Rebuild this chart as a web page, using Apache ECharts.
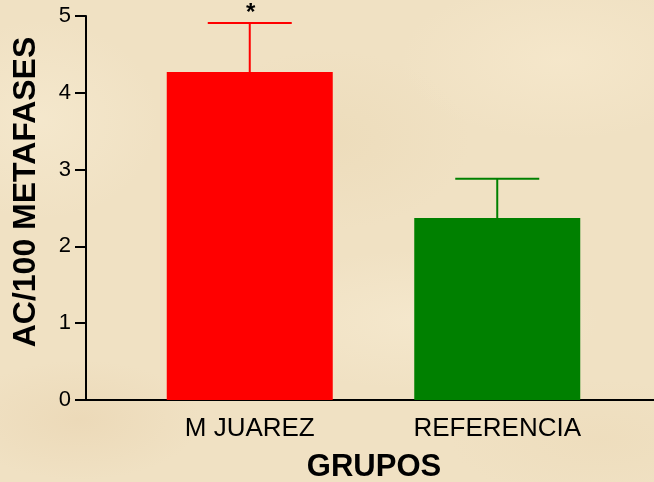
<!DOCTYPE html>
<html>
<head>
<meta charset="utf-8">
<script src="https://cdn.jsdelivr.net/npm/echarts@6/dist/echarts.min.js"></script>
<style>
  html, body { margin: 0; padding: 0; }
  #chart {
    width: 654px;
    height: 482px;
    background-color: #f0e1c3;
    background-image:
      radial-gradient(ellipse 120px 60px at 80px 420px, rgba(232,210,174,0.5), rgba(232,210,174,0) 100%),
      radial-gradient(ellipse 160px 80px at 560px 60px, rgba(246,232,204,0.8), rgba(246,232,204,0) 100%),
      radial-gradient(ellipse 140px 90px at 330px 140px, rgba(234,216,180,0.5), rgba(234,216,180,0) 100%),
      radial-gradient(ellipse 180px 70px at 420px 320px, rgba(246,234,208,0.7), rgba(246,234,208,0) 100%),
      radial-gradient(ellipse 120px 100px at 40px 120px, rgba(246,234,208,0.7), rgba(246,234,208,0) 100%),
      radial-gradient(ellipse 150px 60px at 600px 440px, rgba(236,218,184,0.5), rgba(236,218,184,0) 100%);
  }
</style>
</head>
<body>
<div id="chart"></div>
<script>
// datos del grafico
const groups = ["M JUAREZ", "REFERENCIA"]
const means = [4.27, 2.37]
const errors = [0.64, 0.51]
const marks = ["*", ""]
const barColors = ["#ff0000", "#008000"]

const font = "Arial, 'Liberation Sans', sans-serif"

const chart = echarts.init(document.getElementById("chart"))

const option = {
  backgroundColor: "transparent",
  animation: false,
  grid: [
    // ejes visibles
    { left: 86, right: 0, top: 16, bottom: 82, outerBoundsMode: "none", containLabel: false },
    // barras
    { left: 126, right: 33, top: 16, bottom: 82, outerBoundsMode: "none", containLabel: false }
  ],
  xAxis: [
    {
      gridIndex: 0,
      type: "category",
      data: groups,
      axisLine: { lineStyle: { color: "#000", width: 2 } },
      axisTick: { show: false },
      axisLabel: { show: false },
      name: "GRUPOS",
      nameLocation: "middle",
      nameGap: 52,
      nameTextStyle: {
        color: "#000", fontFamily: font, fontSize: 31, fontWeight: "bold",
        padding: [0, 0, 0, 8]
      }
    },
    {
      gridIndex: 1,
      type: "category",
      data: groups,
      axisLine: { show: false },
      axisTick: { show: false },
      axisLabel: { color: "#000", fontFamily: font, fontSize: 26, margin: 16 }
    }
  ],
  yAxis: [
    {
      gridIndex: 0,
      type: "value",
      min: 0,
      max: 5,
      interval: 1,
      splitLine: { show: false },
      axisLine: { show: true, lineStyle: { color: "#000", width: 2 } },
      axisTick: { show: true, inside: false, length: 11, lineStyle: { color: "#000", width: 2 } },
      axisLabel: { color: "#000", fontFamily: font, fontSize: 22, margin: 15 },
      name: "AC/100 METAFASES",
      nameLocation: "middle",
      nameGap: 44,
      nameTextStyle: {
        color: "#000", fontFamily: font, fontSize: 32, fontWeight: "bold",
        padding: [0, 0, 0, 32]
      }
    },
    {
      gridIndex: 1,
      type: "value",
      min: 0,
      max: 5,
      show: false
    }
  ],
  series: [
    {
      type: "bar",
      xAxisIndex: 1,
      yAxisIndex: 1,
      barWidth: 166,
      data: means.map((v, i) => ({ value: v, itemStyle: { color: barColors[i] } }))
    },
    {
      // barras de error y marca de significancia
      type: "custom",
      xAxisIndex: 1,
      yAxisIndex: 1,
      data: means.map((v, i) => [i, v, v + errors[i]]),
      renderItem: (params, api) => {
        const i = api.value(0)
        const base = api.coord([i, api.value(1)])
        const top = api.coord([i, api.value(2)])
        const color = barColors[i]
        const children = [
          { type: "line", shape: { x1: base[0], y1: base[1], x2: top[0], y2: top[1] }, style: { stroke: color, lineWidth: 2 } },
          { type: "line", shape: { x1: top[0] - 42, y1: top[1], x2: top[0] + 42, y2: top[1] }, style: { stroke: color, lineWidth: 2 } }
        ]
        if (marks[i]) {
          children.push({
            type: "text",
            style: {
              text: marks[i], x: top[0] + 1, y: top[1] + 2,
              fill: "#000", font: "bold 24px " + font,
              align: "center", verticalAlign: "bottom"
            }
          })
        }
        return { type: "group", children }
      },
      z: 3
    }
  ]
}

chart.setOption(option)
</script>
</body>
</html>
